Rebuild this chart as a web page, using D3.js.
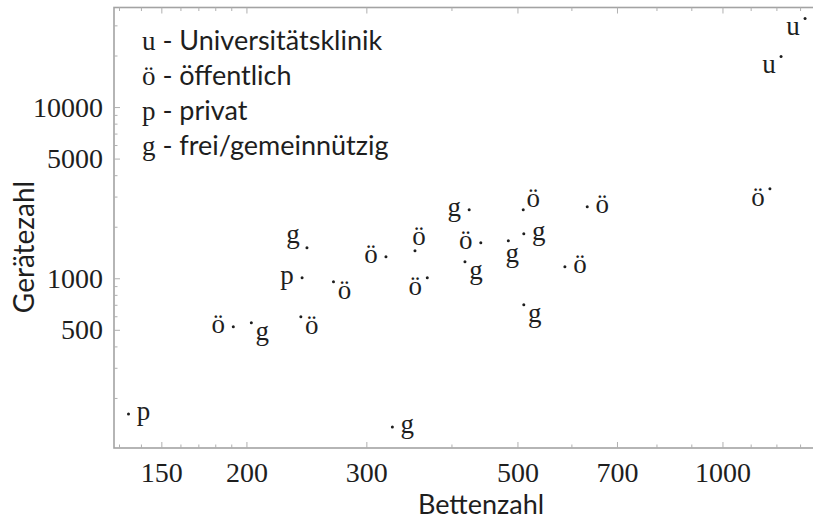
<!DOCTYPE html>
<html>
<head>
<meta charset="utf-8">
<script src="https://cdn.jsdelivr.net/npm/d3@7"></script>
<style>
  html, body { margin: 0; padding: 0; background: #fff; }
  svg { display: block; }
  .serif { font-family: "Liberation Serif", "Times New Roman", "DejaVu Serif", serif; fill: #1e1e1e; }
  .sans { font-family: Lato, "Open Sans", sans-serif; fill: #1e1e1e; }
</style>
</head>
<body>
<svg id="chart" width="813" height="521"></svg>
<script>
// Hospitals: beds (Bettenzahl) vs. number of devices (Gerätezahl), by ownership type
const typeCodes = ["p","ö","g","ö","p","g","ö","ö","g","ö","ö","g","g","ö","g","ö","g","g","ö","ö","ö","u","u"];
const beds      = [134,191,203,240,241,245,268,320,327,353,368,418,424,441,484,509,510,510,586,632,1172,1217,1320];
const devices   = [162,524,553,600,1013,1518,960,1345,136,1458,1013,1257,2532,1624,1668,2532,1833,705,1176,2637,3360,19880,33150];
// where each letter sits next to its dot
const labelSide = ["right","left","belowRight","belowRight","left","aboveLeft","belowRight","left","right","above","belowLeft","belowRight","left","left","below","aboveRight","right","belowRight","right","right","belowLeft","belowLeft","belowLeft"];

const legendCodes = ["u","ö","p","g"];
const legendNames = ["Universitätsklinik","öffentlich","privat","frei/gemeinnützig"];

const xMajor = [150,200,300,500,700,1000];
const xMinor = [130,140,160,170,180,190,400,600,800,900,1100,1200,1300];
const yMajor = [500,1000,5000,10000];
const yMinor = [200,300,400,600,700,800,900,2000,3000,4000,6000,7000,8000,9000,20000,30000];

const xDomain = [127.6, 1365];
const yDomain = [102.7, 38400];

const plotLeft = 114, plotRight = 815, plotTop = 7.5, plotBottom = 448;

const svg = d3.select("#chart");
const x = d3.scaleLog().domain(xDomain).range([plotLeft, plotRight]);
const y = d3.scaleLog().domain(yDomain).range([plotBottom, plotTop]);

const frameColor = "#a3a3a3";
const tickColor = "#b0b0b0";

// frame
svg.append("rect")
  .attr("x", plotLeft).attr("y", plotTop)
  .attr("width", plotRight - plotLeft).attr("height", plotBottom - plotTop)
  .attr("fill", "none").attr("stroke", frameColor).attr("stroke-width", 1.6);

// inward ticks on bottom, top and left
const tg = svg.append("g").attr("stroke", tickColor).attr("stroke-width", 1);
function hTicks(vals, len) {
  vals.forEach(v => {
    const px = x(v);
    tg.append("line").attr("x1", px).attr("x2", px).attr("y1", plotBottom).attr("y2", plotBottom - len);
    tg.append("line").attr("x1", px).attr("x2", px).attr("y1", plotTop).attr("y2", plotTop + len);
  });
}
function vTicks(vals, len) {
  vals.forEach(v => {
    const py = y(v);
    tg.append("line").attr("x1", plotLeft).attr("x2", plotLeft + len).attr("y1", py).attr("y2", py);
  });
}
hTicks(xMajor, 6); hTicks(xMinor, 3.5);
vTicks(yMajor, 6); vTicks(yMinor, 3.5);

// tick labels
svg.append("g").selectAll("text").data(xMajor).join("text")
  .attr("class", "serif")
  .attr("x", d => x(d)).attr("y", 482)
  .attr("text-anchor", "middle")
  .attr("font-size", 28)
  .text(d => d);

svg.append("g").selectAll("text").data(yMajor).join("text")
  .attr("class", "serif")
  .attr("x", 103).attr("y", d => y(d) + 9)
  .attr("text-anchor", "end")
  .attr("font-size", 28)
  .text(d => d);

// axis titles
svg.append("text").attr("class", "sans")
  .attr("x", 481).attr("y", 514)
  .attr("text-anchor", "middle").attr("font-size", 27)
  .text("Bettenzahl");

svg.append("text").attr("class", "sans")
  .attr("transform", "translate(34,247) rotate(-90)")
  .attr("text-anchor", "middle").attr("font-size", 28)
  .text("Gerätezahl");

// legend
const legend = svg.append("g");
legendCodes.forEach((c, i) => {
  const t = legend.append("text").attr("x", 142).attr("y", 50 + i * 35).attr("font-size", 27);
  t.append("tspan").attr("class", "serif").attr("font-size", 27).text(c);
  t.append("tspan").attr("class", "sans").text(" - " + legendNames[i]);
});

// points and their type letters
const sideOffset = {
  right:      [15, 0],
  left:       [-15, 0],
  above:      [4, -12],
  below:      [4, 15],
  aboveLeft:  [-14, -11],
  aboveRight: [10, -9],
  belowRight: [11, 11],
  belowLeft:  [-12, 11]
};
const pts = beds.map((b, i) => ({ b, d: devices[i], c: typeCodes[i], s: labelSide[i] }));

svg.append("g").selectAll("circle").data(pts).join("circle")
  .attr("cx", p => x(p.b)).attr("cy", p => y(p.d))
  .attr("r", 1.5).attr("fill", "#1e1e1e");

svg.append("g").selectAll("text").data(pts).join("text")
  .attr("class", "serif")
  .attr("x", p => x(p.b) + sideOffset[p.s][0])
  .attr("y", p => y(p.d) + sideOffset[p.s][1] + 6)
  .attr("text-anchor", "middle")
  .attr("font-size", 27)
  .text(p => p.c);
</script>
</body>
</html>
